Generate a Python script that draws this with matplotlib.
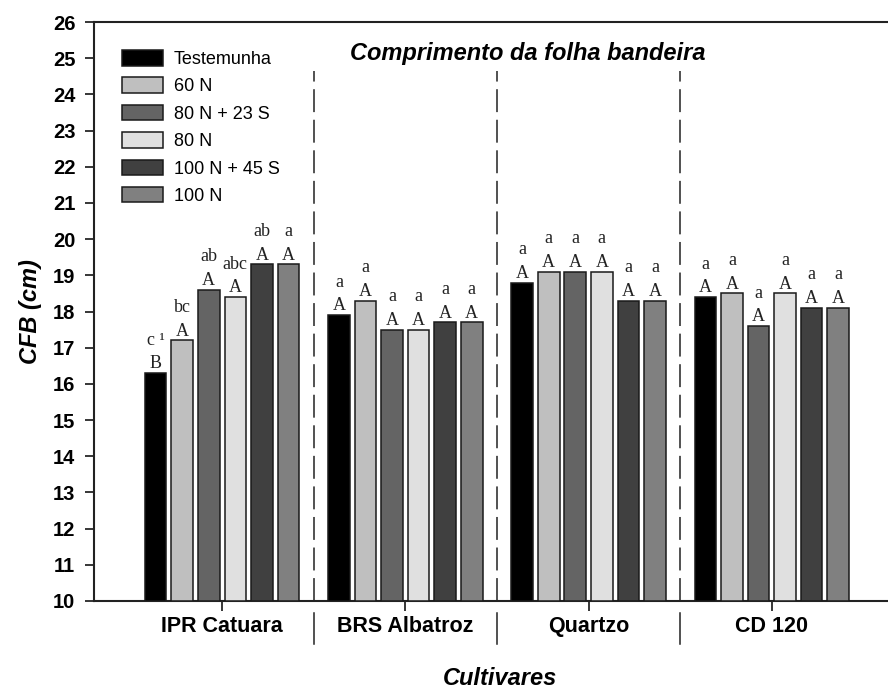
import numpy as np
import matplotlib.pyplot as plt
from matplotlib.patches import Patch

plt.rcParams['font.family'] = ['Liberation Sans', 'DejaVu Sans']

cultivars = ['IPR Catuara', 'BRS Albatroz', 'Quartzo', 'CD 120']
treatments = ['Testemunha', '60 N', '80 N + 23 S', '80 N', '100 N + 45 S', '100 N']
colors = ['#000000', '#bfbfbf', '#646464', '#e0e0e0', '#404040', '#808080']

# flag leaf length (cm), one row per cultivar, one column per treatment
cfb = np.array([
    [16.3, 17.2, 18.6, 18.4, 19.3, 19.3],
    [17.9, 18.3, 17.5, 17.5, 17.7, 17.7],
    [18.8, 19.1, 19.1, 19.1, 18.3, 18.3],
    [18.4, 18.5, 17.6, 18.5, 18.1, 18.1],
])
# lowercase: treatments within cultivar; uppercase: cultivars within treatment
lower = [
    ['c \u00b9', 'bc', 'ab', 'abc', 'ab', 'a'],
    ['a'] * 6,
    ['a'] * 6,
    ['a'] * 6,
]
upper = [
    ['B', 'A', 'A', 'A', 'A', 'A'],
    ['A'] * 6,
    ['A'] * 6,
    ['A'] * 6,
]

W, H = 888, 693
fig = plt.figure(figsize=(W / 100, H / 100), dpi=100)
ax = fig.add_axes([94 / W, (H - 601) / H, 1 - 94 / W, (601 - 22) / H])

x = np.arange(len(cultivars))
pitch, width = 0.145, 0.118
for j, (name, c) in enumerate(zip(treatments, colors)):
    xs = x + (j - 2.5) * pitch
    ax.bar(xs, cfb[:, j] - 10, bottom=10, width=width, color=c,
           edgecolor='#1a1a1a', linewidth=1.1, label=name, zorder=3)
    for i in range(len(cultivars)):
        ax.annotate(upper[i][j], (xs[i], cfb[i, j]), xytext=(0, 3.4),
                    textcoords='offset points', ha='center', va='baseline',
                    family='Liberation Serif', fontsize=13, color='#222')
        ax.annotate(lower[i][j], (xs[i], cfb[i, j]), xytext=(0, 20.5),
                    textcoords='offset points', ha='center', va='baseline',
                    family='Liberation Serif', fontsize=13, color='#222')

# group separators: dashed inside the plot, solid stub under the axis
for xd in [0.5, 1.5, 2.5]:
    ax.plot([xd, xd], [10, 24.65], color='#222', lw=1.1,
            linestyle=(0, (15, 5)), zorder=2)
    ax.plot([xd, xd], [(601 - 613) / 579, (601 - 644) / 579],
            transform=ax.get_xaxis_transform(), color='#222', lw=1.1,
            clip_on=False)

ax.set_xlim(-0.699, 3.634)
ax.set_ylim(10, 26)
ax.set_yticks(np.arange(10, 27, 1))
ax.set_xticks(x)
ax.set_xticklabels(cultivars, fontsize=15.5, fontweight='bold')
ax.tick_params(axis='y', direction='out', length=6.5, width=1.1, pad=7,
               labelsize=14.5)
ax.tick_params(axis='x', direction='out', length=7, width=1.1, pad=4)
for lbl in ax.get_yticklabels():
    lbl.set_fontweight('bold')

ax.spines['right'].set_visible(False)
for s in ['left', 'bottom', 'top']:
    ax.spines[s].set_linewidth(1.5)
    ax.spines[s].set_color('#222')

fig.text(528 / W, 1 - 60 / H, 'Comprimento da folha bandeira', ha='center',
         va='baseline', fontsize=17, fontweight='bold', style='italic')
fig.text(30 / W, 1 - 312 / H, 'CFB (cm)', rotation=90, ha='center',
         va='center', fontsize=17, fontweight='bold', style='italic')
fig.text(500 / W, 1 - 685 / H, 'Cultivares', ha='center', va='baseline',
         fontsize=17, fontweight='bold', style='italic')

handles = [Patch(facecolor=c, edgecolor='#1a1a1a', linewidth=1.1)
           for c in colors]
ax.legend(handles, treatments, loc='upper left',
          bbox_to_anchor=(121.5 / W, 1 - 50 / H),
          bbox_transform=fig.transFigure, frameon=False, fontsize=13,
          handlelength=2.3, handleheight=0.95, handletextpad=0.6,
          labelspacing=0.52, borderpad=0, borderaxespad=0)

fig.savefig('out.png', dpi=100, facecolor='white')
